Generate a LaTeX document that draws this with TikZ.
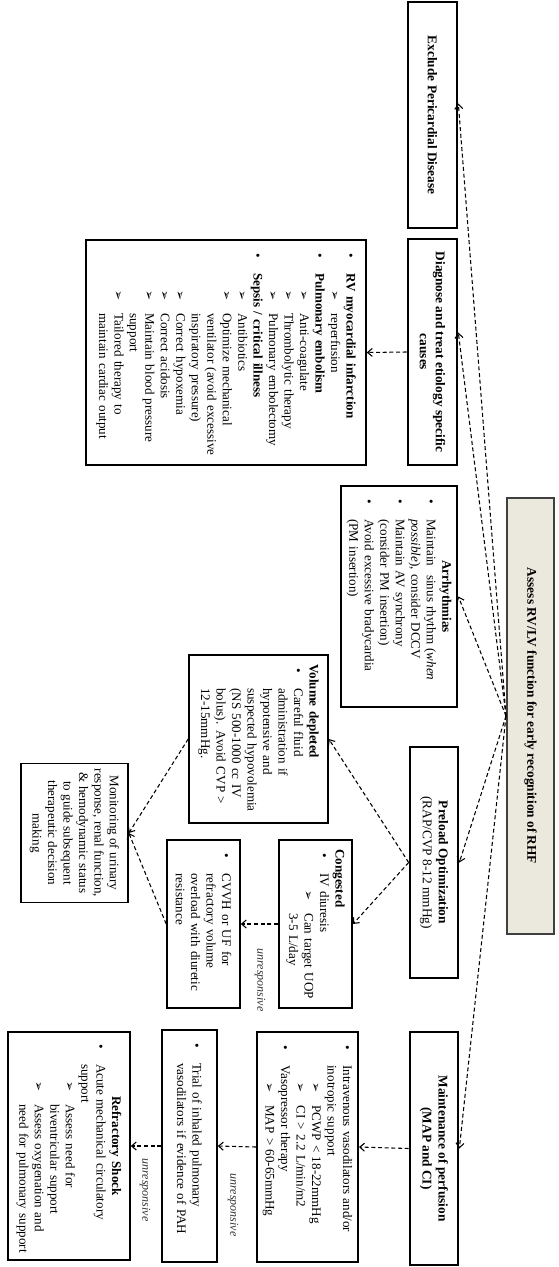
\documentclass[tikz,border=0pt]{standalone}
\usepackage{fontspec}
\setmainfont{Liberation Serif}
\newfontfamily\dingfont{DejaVu Sans}
\usetikzlibrary{arrows.meta,calc}
\definecolor{assessfill}{RGB}{235,232,222}
\newcommand{\arrowhd}{{\dingfont\fontsize{9}{9}\selectfont ➢}}
\newcommand{\lvlh}[1]{\hspace*{3pt}\mbox{#1}}
\newcommand{\lvla}[1]{\hspace*{6pt}\makebox[15pt][l]{\textbullet}\mbox{#1}}
\newcommand{\lvlac}[1]{\hspace*{21pt}\mbox{#1}}
\newcommand{\lvlb}[1]{\hspace*{34pt}\makebox[17pt][l]{\arrowhd}\mbox{#1}}
\newcommand{\lvlc}[1]{\hspace*{51pt}\mbox{#1}}
\newcommand{\hdr}[1]{\makebox[\hsize]{\textbf{#1}}}
\begin{document}
\begin{tikzpicture}[x=0.75pt, y=-0.75pt,
  box/.style={draw, rotate=-90, line width=1.2pt, inner xsep=4pt, inner ysep=3pt, align=left, font=\fontsize{9.8}{11.6}\selectfont},
  mainbox/.style={box, line width=2pt, align=center, font=\fontsize{10}{12}\selectfont\bfseries},
  topbox/.style={mainbox, fill=assessfill, draw=black!75, line width=1.5pt},
  unresp/.style={rotate=-90, font=\fontsize{9}{10}\selectfont\itshape, text=black!80},
  flow/.style={dash pattern=on 3pt off 2pt, line width=0.8pt, -{Straight Barb[length=3.5pt,width=6pt]}}]
\useasboundingbox (0,0) rectangle (559,1267);

\node[topbox, minimum width=327pt, minimum height=35.25pt] (assess) at (530.5,716) {Assess RV/LV function for early recognition of RHF};

\node[mainbox, minimum width=169.5pt, minimum height=36.75pt] (excl) at (432.5,115) {Exclude Pericardial Disease};
\node[mainbox, minimum width=169.5pt, minimum height=36.75pt] (diag) at (432.5,352) {Diagnose and treat etiology specific\\causes};
\node[mainbox, minimum width=173.25pt, minimum height=36pt] (pre) at (434,862.5) {Preload Optimization\\\mdseries (RAP/CVP 8-12 mmHg)};
\node[mainbox, minimum width=174.75pt, minimum height=36pt] (maint) at (434,1148.5) {Maintenance of perfusion\\(MAP and CI)};

\node[box, minimum width=168.75pt, minimum height=210pt, text width=160.75pt] (etio) at (226,352.5) {\lvla{\textbf{RV myocardial infarction}}\\
\lvlb{reperfusion}\\
\lvla{\textbf{Pulmonary embolism}}\\
\lvlb{Anti-coagulate}\\
\lvlb{Thrombolytic therapy}\\
\lvlb{Pulmonary embolectomy}\\
\lvla{\textbf{Sepsis / critical illness}}\\
\lvlb{Antibiotics}\\
\lvlb{Optimize mechanical}\\
\lvlc{ventilator (avoid excessive}\\
\lvlc{inspiratory pressure)}\\
\lvlb{Correct hypoxemia}\\
\lvlb{Correct acidosis}\\
\lvlb{Maintain blood pressure}\\
\lvlc{support}\\
\lvlb{Tailored therapy to}\\
\lvlc{maintain cardiac output}};

\node[box, line width=2pt, minimum width=165.75pt, minimum height=87pt, text width=157.75pt] (arr) at (399,596.5) {\hdr{Arrhythmias}\\
\lvla{Maintain\ \ sinus rhythm (\emph{when}}\\
\lvlac{\emph{possible}), consider DCCV}\\
\lvla{Maintain AV synchrony}\\
\lvlac{(consider PM insertion)}\\
\lvla{Avoid excessive bradycardia}\\
\lvlac{(PM insertion)}};

\node[box, minimum width=126pt, minimum height=104.25pt, text width=118pt] (vol) at (258.5,739) {\lvlh{\textbf{Volume depleted}}\\
\lvla{Careful fluid}\\
\lvlac{administration if}\\
\lvlac{hypotensive and}\\
\lvlac{suspected hypovolemia}\\
\lvlac{(NS 500-1000 cc IV}\\
\lvlac{bolus). Avoid CVP >}\\
\lvlac{12-15mmHg.}};

\node[box, line width=1.5pt, minimum width=126pt, minimum height=54.75pt, text width=118pt] (cong) at (315.5,924) {\lvlh{\textbf{Congested}}\\
\lvla{IV diuresis}\\
\lvlb{Can target UOP}\\
\lvlc{3-5 L/day}};

\node[box, minimum width=126pt, minimum height=54.75pt, text width=118pt] (cvvh) at (203.5,924) {\lvla{CVVH or UF for}\\
\lvlac{refractory volume}\\
\lvlac{overload with diuretic}\\
\lvlac{resistance}};

\node[box, align=center, minimum width=102pt, minimum height=80.25pt] (mon) at (74.5,833) {Monitoring of urinary\\
response, renal function,\\
\& hemodynamic status\\
to guide subsequent\\
therapeutic decision\\
making};

\node[box, line width=1.5pt, minimum width=172.5pt, minimum height=75.75pt, text width=164.5pt] (iv) at (307.5,1147) {\lvla{Intravenous vasodilators and/or}\\
\lvlac{inotropic support}\\
\lvlb{PCWP < 18-22mmHg}\\
\lvlb{CI > 2.2 L/min/m2}\\
\lvla{Vasopressor therapy}\\
\lvlb{MAP > 60-65mmHg}};

\node[box, minimum width=174pt, minimum height=41.25pt, text width=166pt] (trial) at (189.5,1146) {\lvla{Trial of inhaled pulmonary}\\
\lvlac{vasodilators if evidence of PAH}};

\node[box, inner xsep=3pt, minimum width=171pt, minimum height=91.5pt, text width=165pt] (refr) at (69,1146) {\hdr{Refractory Shock}\\
\lvla{Acute mechanical circulatory}\\
\lvlac{support}\\
\lvlb{Assess need for}\\
\lvlc{biventricular support}\\
\lvlb{Assess oxygenation and}\\
\lvlc{need for pulmonary support}};

\node[unresp] (unr1) at (260,980) {unresponsive};
\node[unresp] (unr2) at (233,1205) {unresponsive};
\node[unresp] (unr3) at (145,1190) {unresponsive};

\draw[flow] (assess.south) -- ($(excl.north)!0.1!(excl.north west)$);
\draw[flow] (assess.south) -- ($(diag.north)!0.17!(diag.north west)$);
\draw[flow] (assess.south) -- (arr.north);
\draw[flow] (assess.south) -- (pre.north);
\draw[flow] (assess.south) -- (maint.north);
\draw[flow] (diag.south) -- (etio.north);
\draw[flow] (pre.south) -- (vol.north);
\draw[flow] (pre.south) -- (cong.north);
\draw[flow] (cong.south) -- (cvvh.north);
\draw[flow] (vol.south) -- (mon.north);
\draw[flow] (cvvh.south) -- (mon.north);
\draw[flow] (maint.south) -- (iv.north);
\draw[flow] (iv.south) -- (trial.north);
\draw[flow] (trial.south) -- (refr.north);
\end{tikzpicture}
\end{document}
